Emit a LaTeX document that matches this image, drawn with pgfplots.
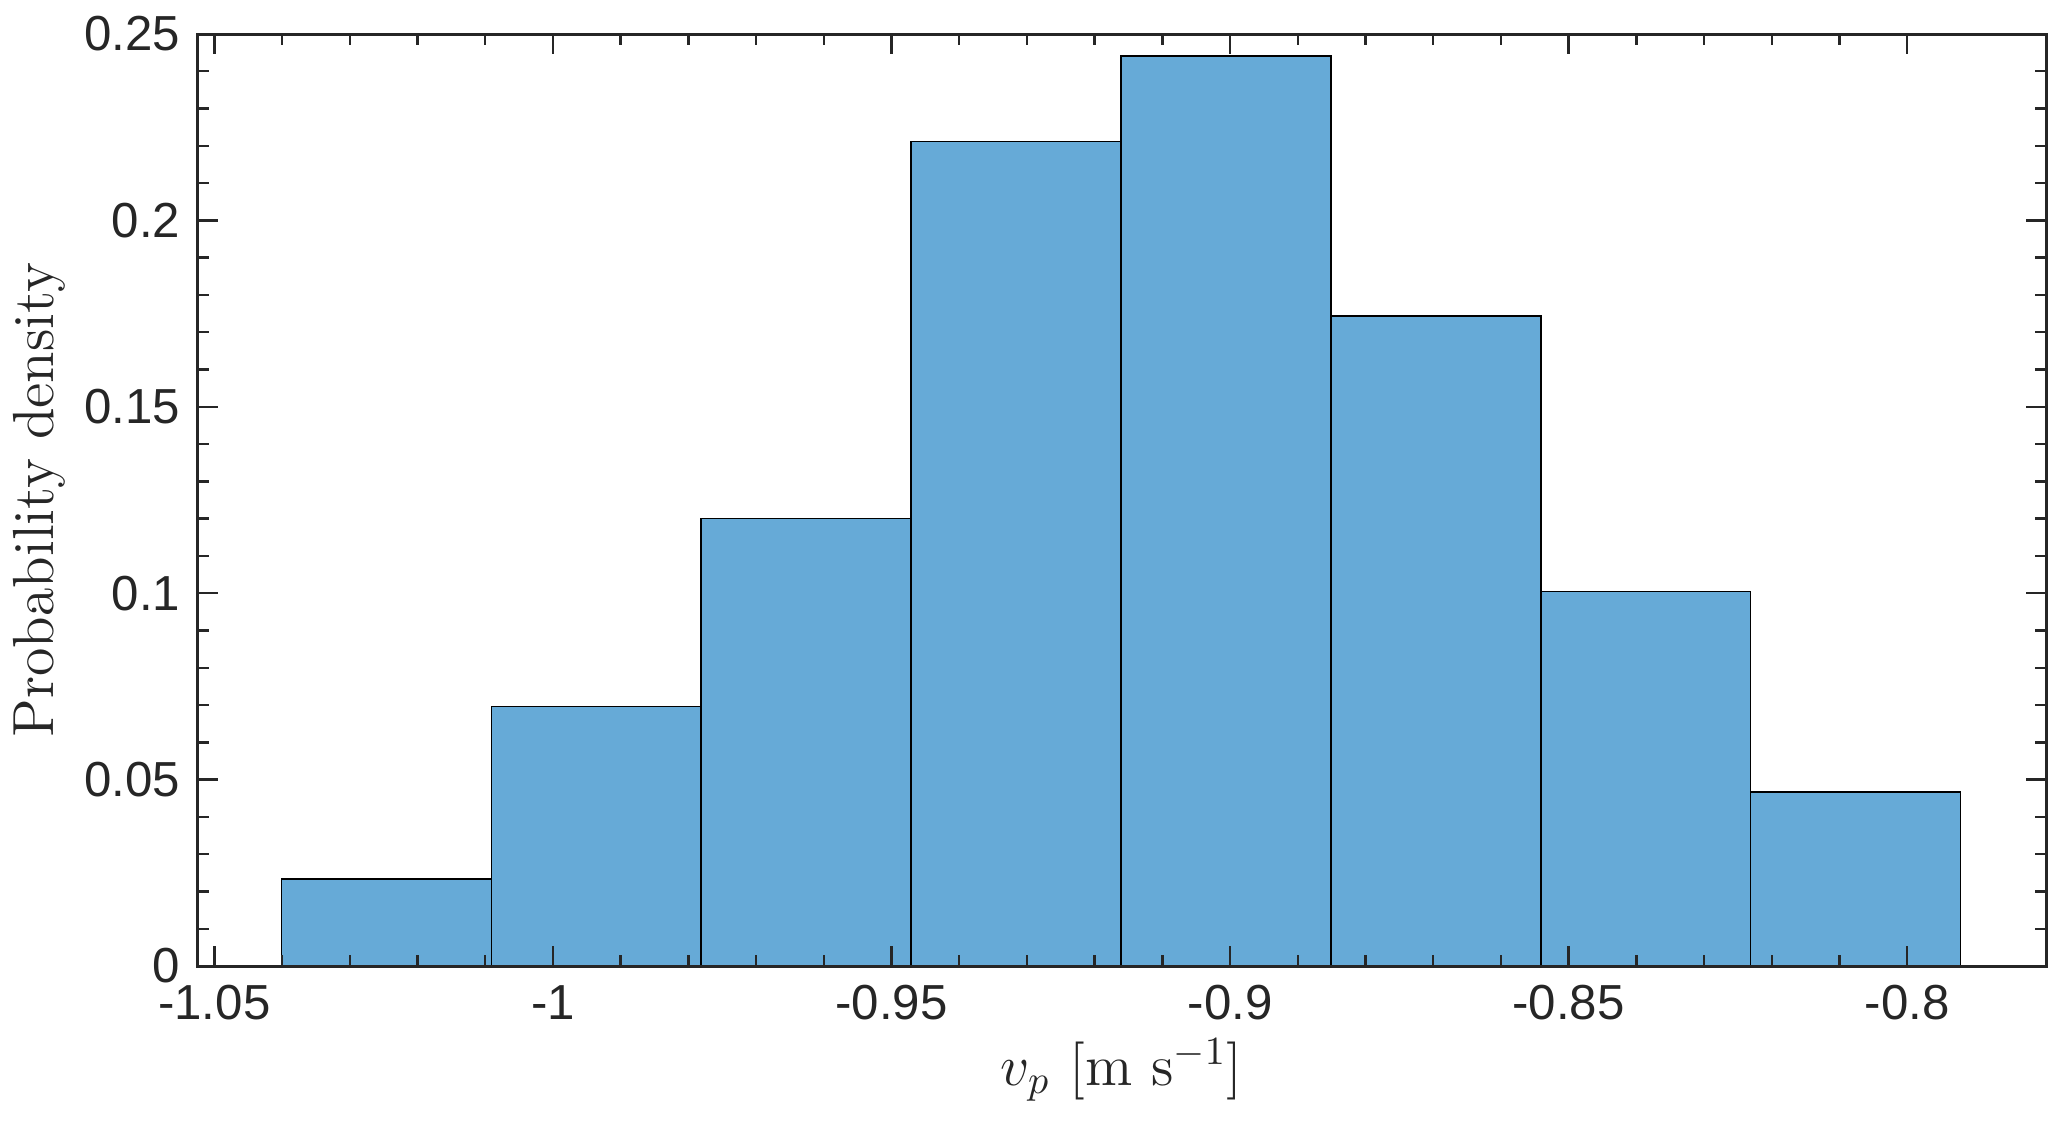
\documentclass[border=0pt]{standalone}
\usepackage{pgfplots}
\pgfplotsset{compat=1.18}
\usepackage{fontspec}
\setsansfont{Liberation Sans}
\definecolor{barfill}{RGB}{102,170,215}
\definecolor{axgray}{RGB}{38,38,38}
\begin{document}
\begin{tikzpicture}
\useasboundingbox (-49.375pt,-39.75pt) rectangle (467.35pt,241.5pt);
\begin{axis}[
  at={(0,0)}, anchor=south west,
  scale only axis,
  width=462.1pt, height=233pt,
  xmin=-1.05248, xmax=-0.7795,
  ymin=0, ymax=0.25,
  axis on top,
  axis line style={axgray, line width=0.75pt},
  tick style={axgray, line width=0.6pt},
  tick align=inside,
  major tick length=5pt,
  minor tick length=2.75pt,
  minor tick num=4,
  xtick={-1.05,-1,-0.95,-0.9,-0.85,-0.8},
  xticklabels={-1.05,-1,-0.95,-0.9,-0.85,-0.8},
  ytick={0,0.05,0.1,0.15,0.2,0.25},
  yticklabels={0,0.05,0.1,0.15,0.2,0.25},
  ticklabel style={font=\fontsize{12.3}{14}\selectfont\sffamily, text=axgray, inner sep=0pt},
  xticklabel style={yshift=-4.6pt},
  yticklabel style={xshift=-4.1pt},
  xlabel={$v_p$ [m s$^{-1}$]},
  ylabel={Probability density},
  every axis x label/.style={at={(axis description cs:0.5,-0.1116)}, anchor=center, font=\fontsize{14.5}{17}\selectfont, text=axgray},
  every axis y label/.style={at={(axis description cs:-0.0855,0.5)}, anchor=center, rotate=90, font=\fontsize{14.5}{17}\selectfont, text=axgray},
]
\addplot[ybar interval, fill=barfill, draw=black, line width=0.35pt] coordinates {
(-1.0401,0.0233)
(-1.0091,0.0697)
(-0.9781,0.1200)
(-0.9471,0.2211)
(-0.9161,0.2441)
(-0.8851,0.1744)
(-0.8541,0.1005)
(-0.8231,0.0467)
(-0.7921,0.0467)
};
\end{axis}
\end{tikzpicture}
\end{document}
